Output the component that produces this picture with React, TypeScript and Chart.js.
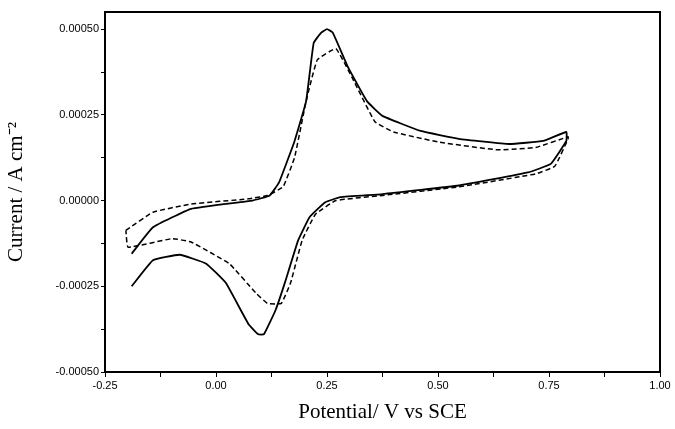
import { useEffect, useRef } from 'react';
import Chart from 'chart.js/auto';

// solid curve (potential V, current A cm-2), forward then reverse scan
const solidX = [-0.19, -0.142, -0.056, 0.082, 0.121, 0.142, 0.177, 0.203, 0.22, 0.237, 0.25, 0.263, 0.297, 0.34, 0.375, 0.461, 0.547, 0.66, 0.737, 0.789,
  0.789, 0.754, 0.703, 0.547, 0.375, 0.28, 0.246, 0.211, 0.185, 0.155, 0.134, 0.108, 0.095, 0.073, 0.022, -0.022, -0.082, -0.142, -0.19];
const solidY = [-0.000155, -0.000078, -0.000024, 0, 0.000015, 0.000053, 0.000174, 0.00029, 0.00046, 0.00049, 0.0005, 0.00049, 0.00039, 0.00029, 0.000247, 0.000203, 0.00018, 0.000165, 0.000174, 0.0002,
  0.000174, 0.000107, 0.000082, 0.000044, 0.000019, 0.00001, -0.000005, -0.000048, -0.000116, -0.00024, -0.00032, -0.00039, -0.00039, -0.00036, -0.00024, -0.000184, -0.000158, -0.000174, -0.00025];

// dashed curve
const dashX = [-0.203, -0.142, -0.056, 0.073, 0.116, 0.151, 0.177, 0.203, 0.228, 0.27, 0.306, 0.358, 0.4, 0.504, 0.634, 0.72, 0.793,
  0.793, 0.763, 0.72, 0.547, 0.375, 0.27, 0.224, 0.194, 0.168, 0.147, 0.116, 0.09, 0.03, -0.056, -0.099, -0.198, -0.203];
const dashY = [-0.000087, -0.000034, -0.00001, 0.000005, 0.000015, 0.00004, 0.000126, 0.00029, 0.00041, 0.000443, 0.00036, 0.00023, 0.0002, 0.00017, 0.000148, 0.000155, 0.000186,
  0.00018, 0.0001, 0.000078, 0.00004, 0.000015, 0, -0.00004, -0.000116, -0.00024, -0.0003, -0.0003, -0.00027, -0.000184, -0.000121, -0.000111, -0.000136, -0.000087];

const xTicks = [-0.25, -0.125, 0, 0.125, 0.25, 0.375, 0.5, 0.625, 0.75, 0.875, 1.0];
const yTicks = [-0.0005, -0.000375, -0.00025, -0.000125, 0, 0.000125, 0.00025, 0.000375, 0.0005];

const toPts = (xs: number[], ys: number[]) => xs.map((x, i) => ({ x, y: ys[i] }));

export default function App() {
  const ref = useRef<HTMLCanvasElement | null>(null);

  useEffect(() => {
    document.body.style.margin = '0';
    if (!ref.current) return;
    const boxPlugin = {
      id: 'box',
      afterDraw(chart: any) {
        const { ctx, chartArea: a } = chart;
        ctx.save();
        ctx.strokeStyle = '#000';
        ctx.lineWidth = 2;
        ctx.strokeRect(a.left, a.top, a.right - a.left, a.bottom - a.top);
        ctx.restore();
      },
    };
    const tickFont = { family: 'Arial, "Liberation Sans"', size: 11 };
    const chart = new Chart(ref.current, {
      type: 'scatter',
      data: {
        datasets: [
          { data: toPts(solidX, solidY), showLine: true, borderColor: '#000', borderWidth: 1.8, pointRadius: 0, tension: 0.1 },
          { data: toPts(dashX, dashY), showLine: true, borderColor: '#000', borderWidth: 1.5, borderDash: [5, 3], pointRadius: 0, tension: 0.1 },
        ],
      },
      options: {
        animation: false,
        responsive: false,
        layout: { padding: { top: 12, right: 15 } },
        plugins: { legend: { display: false }, tooltip: { enabled: false } },
        scales: {
          x: {
            type: 'linear',
            min: -0.25,
            max: 1.0,
            afterBuildTicks: (s: any) => { s.ticks = xTicks.map((v) => ({ value: v })); },
            afterFit: (s: any) => { s.height = 57; },
            ticks: {
              color: '#000',
              font: tickFont,
              maxRotation: 0,
              padding: 2,
              callback: (v: any) => (Math.round(v * 1000) % 250 === 0 ? Number(v).toFixed(2) : ''),
            },
            grid: { drawOnChartArea: false, color: '#000', tickLength: 5 },
            border: { color: '#000', width: 2 },
            title: { display: true, text: 'Potential/ V vs SCE', color: '#000', font: { family: '"Times New Roman", "Liberation Serif", serif', size: 21 }, padding: { top: 4 } },
          },
          y: {
            type: 'linear',
            min: -0.0005,
            max: 0.00055,
            afterBuildTicks: (s: any) => { s.ticks = yTicks.map((v) => ({ value: v })); },
            afterFit: (s: any) => { s.width = 105; },
            ticks: {
              color: '#000',
              font: tickFont,
              padding: 2,
              callback: (v: any) => (Math.round(v * 1e6) % 250 === 0 ? Number(v).toFixed(5) : ''),
            },
            grid: { drawOnChartArea: false, color: '#000', tickLength: 4 },
            border: { color: '#000', width: 2 },
            title: { display: true, text: 'Current / A cm⁻²', color: '#000', font: { family: '"Times New Roman", "Liberation Serif", serif', size: 21 }, padding: { bottom: 2 } },
          },
        },
      },
      plugins: [boxPlugin],
    });
    return () => chart.destroy();
  }, []);

  return <canvas ref={ref} width={675} height={429} style={{ display: 'block', background: '#fff' }} />;
}
